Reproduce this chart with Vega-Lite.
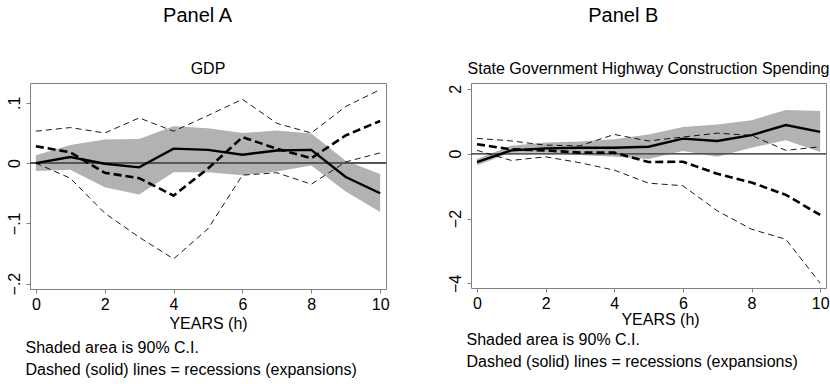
{
  "$schema": "https://vega.github.io/schema/vega-lite/v6.json",
  "background": "white",
  "padding": {"left": 5, "top": 5, "right": 4, "bottom": 2},
  "datasets": {
    "gdp": [
      {"h": 0, "exp": 0.000, "exp_lo": -0.013, "exp_hi": 0.013, "rec": 0.028, "rec_lo": 0.000, "rec_hi": 0.053},
      {"h": 1, "exp": 0.010, "exp_lo": -0.011, "exp_hi": 0.030, "rec": 0.018, "rec_lo": -0.025, "rec_hi": 0.059},
      {"h": 2, "exp": -0.001, "exp_lo": -0.040, "exp_hi": 0.039, "rec": -0.016, "rec_lo": -0.083, "rec_hi": 0.050},
      {"h": 3, "exp": -0.007, "exp_lo": -0.052, "exp_hi": 0.040, "rec": -0.025, "rec_lo": -0.123, "rec_hi": 0.075},
      {"h": 4, "exp": 0.024, "exp_lo": -0.015, "exp_hi": 0.061, "rec": -0.054, "rec_lo": -0.159, "rec_hi": 0.053},
      {"h": 5, "exp": 0.022, "exp_lo": -0.015, "exp_hi": 0.058, "rec": -0.009, "rec_lo": -0.109, "rec_hi": 0.079},
      {"h": 6, "exp": 0.014, "exp_lo": -0.020, "exp_hi": 0.050, "rec": 0.043, "rec_lo": -0.020, "rec_hi": 0.106},
      {"h": 7, "exp": 0.021, "exp_lo": -0.014, "exp_hi": 0.054, "rec": 0.024, "rec_lo": -0.016, "rec_hi": 0.066},
      {"h": 8, "exp": 0.022, "exp_lo": -0.004, "exp_hi": 0.049, "rec": 0.008, "rec_lo": -0.035, "rec_hi": 0.050},
      {"h": 9, "exp": -0.023, "exp_lo": -0.047, "exp_hi": 0.004, "rec": 0.046, "rec_lo": 0.002, "rec_hi": 0.094},
      {"h": 10, "exp": -0.050, "exp_lo": -0.081, "exp_hi": -0.018, "rec": 0.070, "rec_lo": 0.017, "rec_hi": 0.122}
    ],
    "highway": [
      {"h": 0, "exp": -0.26, "exp_lo": -0.36, "exp_hi": -0.17, "rec": 0.29, "rec_lo": 0.10, "rec_hi": 0.47},
      {"h": 1, "exp": 0.10, "exp_lo": 0.03, "exp_hi": 0.24, "rec": 0.13, "rec_lo": -0.21, "rec_hi": 0.39},
      {"h": 2, "exp": 0.16, "exp_lo": 0.03, "exp_hi": 0.34, "rec": 0.10, "rec_lo": -0.10, "rec_hi": 0.26},
      {"h": 3, "exp": 0.18, "exp_lo": -0.04, "exp_hi": 0.37, "rec": 0.03, "rec_lo": -0.28, "rec_hi": 0.24},
      {"h": 4, "exp": 0.18, "exp_lo": -0.10, "exp_hi": 0.44, "rec": 0.03, "rec_lo": -0.51, "rec_hi": 0.59},
      {"h": 5, "exp": 0.21, "exp_lo": -0.17, "exp_hi": 0.59, "rec": -0.26, "rec_lo": -0.91, "rec_hi": 0.39},
      {"h": 6, "exp": 0.46, "exp_lo": 0.08, "exp_hi": 0.82, "rec": -0.25, "rec_lo": -0.99, "rec_hi": 0.51},
      {"h": 7, "exp": 0.39, "exp_lo": -0.10, "exp_hi": 0.90, "rec": -0.62, "rec_lo": -1.76, "rec_hi": 0.63},
      {"h": 8, "exp": 0.57, "exp_lo": 0.18, "exp_hi": 1.03, "rec": -0.89, "rec_lo": -2.33, "rec_hi": 0.56},
      {"h": 9, "exp": 0.88, "exp_lo": 0.41, "exp_hi": 1.34, "rec": -1.27, "rec_lo": -2.64, "rec_hi": 0.10},
      {"h": 10, "exp": 0.67, "exp_lo": 0.05, "exp_hi": 1.31, "rec": -1.89, "rec_lo": -3.99, "rec_hi": 0.21}
    ]
  },
  "spacing": 56,
  "hconcat": [
    {
      "title": {"text": "Panel A", "fontSize": 20, "anchor": "middle", "offset": 35},
      "vconcat": [
        {
          "title": {
            "text": ["Shaded area is 90% C.I.", "Dashed (solid) lines = recessions (expansions)"],
            "orient": "bottom", "anchor": "start", "fontSize": 16, "lineHeight": 22, "offset": 8, "dx": 20
          },
          "vconcat": [
            {
              "title": {"text": "GDP", "fontSize": 16, "anchor": "middle", "offset": 6},
              "width": 356,
              "height": 206,
              "data": {"name": "gdp"},
              "encoding": {
                "x": {
                  "field": "h", "type": "quantitative",
                  "scale": {"domain": [-0.17, 10.17], "nice": false, "zero": false},
                  "axis": {"values": [0, 2, 4, 6, 8, 10], "title": "YEARS (h)"}
                }
              },
              "layer": [
                {
                  "mark": {"type": "area", "color": "#b2b2b2", "opacity": 1},
                  "encoding": {
                    "y": {
                      "field": "exp_lo", "type": "quantitative",
                      "scale": {"domain": [-0.209, 0.133], "nice": false, "zero": false},
                      "axis": {
                        "values": [-0.2, -0.1, 0, 0.1], "title": null,
                        "labelExpr": "datum.value == 0 ? '0' : replace(format(datum.value, '.1f'), '0.', '.')"
                      }
                    },
                    "y2": {"field": "exp_hi"}
                  }
                },
                {
                  "mark": {"type": "rule", "color": "#555555", "strokeWidth": 1},
                  "encoding": {"y": {"datum": 0}, "x": {}}
                },
                {
                  "mark": {"type": "line", "color": "black", "strokeWidth": 0.9, "strokeDash": [6, 4]},
                  "encoding": {"y": {"field": "rec_hi", "type": "quantitative"}}
                },
                {
                  "mark": {"type": "line", "color": "black", "strokeWidth": 0.9, "strokeDash": [6, 4]},
                  "encoding": {"y": {"field": "rec_lo", "type": "quantitative"}}
                },
                {
                  "mark": {"type": "line", "color": "black", "strokeWidth": 2.6, "strokeDash": [8, 4]},
                  "encoding": {"y": {"field": "rec", "type": "quantitative"}}
                },
                {
                  "mark": {"type": "line", "color": "black", "strokeWidth": 2.4},
                  "encoding": {"y": {"field": "exp", "type": "quantitative"}}
                }
              ]
            }
          ]
        }
      ]
    },
    {
      "title": {"text": "Panel B", "fontSize": 20, "anchor": "middle", "offset": 35, "dx": -15},
      "vconcat": [
        {
          "title": {
            "text": ["Shaded area is 90% C.I.", "Dashed (solid) lines = recessions (expansions)"],
            "orient": "bottom", "anchor": "start", "fontSize": 16, "lineHeight": 22, "offset": 4, "dx": 20
          },
          "vconcat": [
            {
              "title": {"text": "State Government Highway Construction Spending", "fontSize": 16, "anchor": "middle", "offset": 6},
              "width": 355,
              "height": 205,
              "data": {"name": "highway"},
              "encoding": {
                "x": {
                  "field": "h", "type": "quantitative",
                  "scale": {"domain": [-0.175, 10.17], "nice": false, "zero": false},
                  "axis": {"values": [0, 2, 4, 6, 8, 10], "title": "YEARS (h)", "titlePadding": 0, "titleX": 189}
                }
              },
              "layer": [
                {
                  "mark": {"type": "area", "color": "#b2b2b2", "opacity": 1},
                  "encoding": {
                    "y": {
                      "field": "exp_lo", "type": "quantitative",
                      "scale": {"domain": [-4.14, 2.175], "nice": false, "zero": false},
                      "axis": {"values": [-4, -2, 0, 2], "title": null}
                    },
                    "y2": {"field": "exp_hi"}
                  }
                },
                {
                  "mark": {"type": "rule", "color": "#555555", "strokeWidth": 1},
                  "encoding": {"y": {"datum": 0}, "x": {}}
                },
                {
                  "mark": {"type": "line", "color": "black", "strokeWidth": 0.9, "strokeDash": [6, 4]},
                  "encoding": {"y": {"field": "rec_hi", "type": "quantitative"}}
                },
                {
                  "mark": {"type": "line", "color": "black", "strokeWidth": 0.9, "strokeDash": [6, 4]},
                  "encoding": {"y": {"field": "rec_lo", "type": "quantitative"}}
                },
                {
                  "mark": {"type": "line", "color": "black", "strokeWidth": 2.6, "strokeDash": [8, 4]},
                  "encoding": {"y": {"field": "rec", "type": "quantitative"}}
                },
                {
                  "mark": {"type": "line", "color": "black", "strokeWidth": 2.4},
                  "encoding": {"y": {"field": "exp", "type": "quantitative"}}
                }
              ]
            }
          ]
        }
      ]
    }
  ],
  "config": {
    "font": "Liberation Sans",
    "view": {"stroke": "#808080", "strokeWidth": 1},
    "axis": {
      "grid": false,
      "domain": false,
      "tickColor": "#808080",
      "tickSize": 4,
      "labelColor": "black",
      "labelFont": "Liberation Sans",
      "labelFontSize": 16,
      "titleFont": "Liberation Sans",
      "titleFontSize": 16,
      "titleFontWeight": "normal",
      "titleColor": "black"
    },
    "axisY": {"labelAngle": -90, "labelAlign": "center", "labelBaseline": "bottom", "labelPadding": 4},
    "axisX": {"labelPadding": 3, "titlePadding": 3},
    "title": {"font": "Liberation Sans", "fontWeight": "normal", "color": "black"},
    "concat": {"spacing": 0}
  }
}
